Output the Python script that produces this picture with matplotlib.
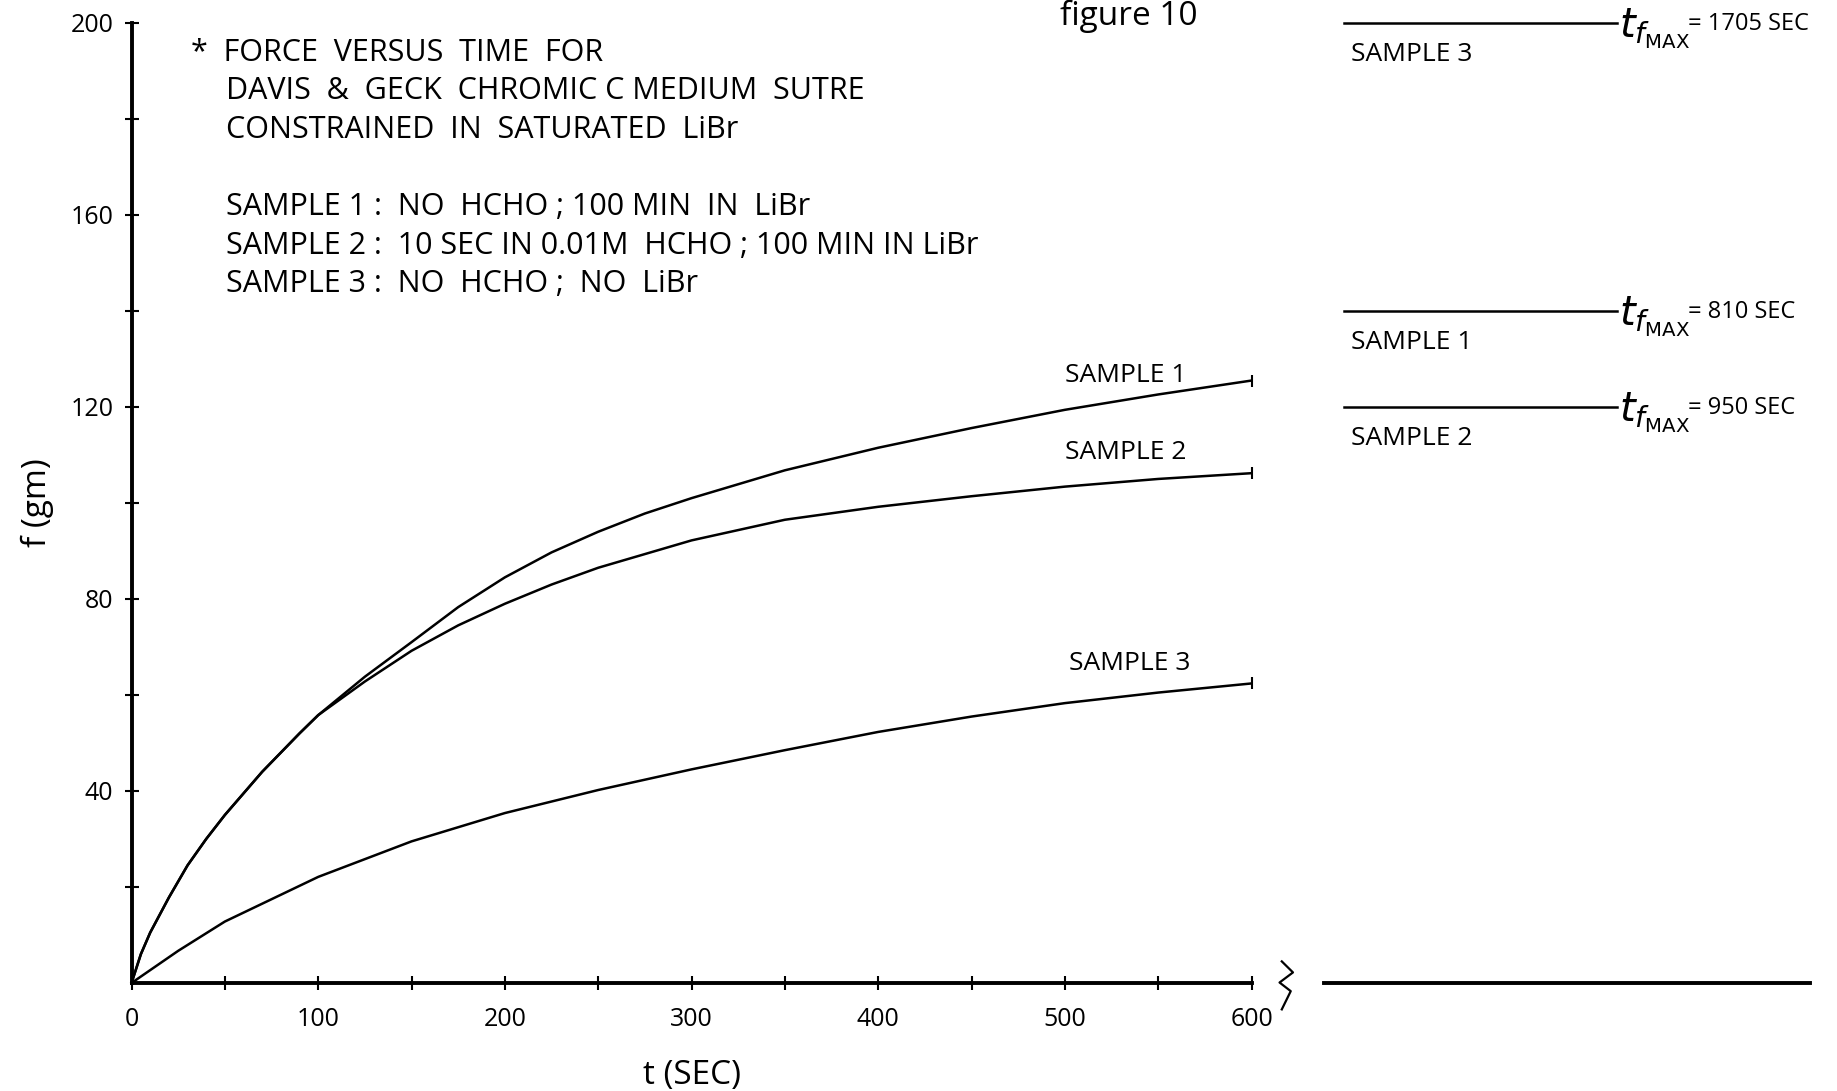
import matplotlib

matplotlib.use("Agg")
import matplotlib.pyplot as plt
from matplotlib import font_manager
from matplotlib.transforms import blended_transform_factory

# force f (gm) against time t (sec)
t1 = [0, 5, 10, 20, 30, 40, 50, 60, 70, 80, 90, 100, 125, 150, 175, 200, 225, 250, 275, 300,
      350, 400, 450, 500, 550, 600]
f1 = [0, 6, 10.5, 17.8, 24.5, 30, 35, 39.5, 44, 48, 52, 55.8, 63.8, 71, 78.3, 84.5, 89.7, 94,
      97.8, 101, 106.8, 111.5, 115.6, 119.4, 122.6, 125.5]

t2 = [0, 5, 10, 20, 30, 40, 50, 60, 70, 80, 90, 100, 125, 150, 175, 200, 225, 250, 300, 350,
      400, 450, 500, 550, 600]
f2 = [0, 6, 10.5, 17.8, 24.5, 30, 35, 39.5, 44, 48, 52, 55.8, 62.8, 69.2, 74.5, 79, 83, 86.5,
      92.2, 96.5, 99.2, 101.4, 103.4, 105, 106.2]

t3 = [0, 25, 50, 100, 150, 200, 250, 300, 350, 400, 450, 500, 550, 600]
f3 = [0, 6.7, 12.8, 22.1, 29.5, 35.4, 40.2, 44.5, 48.5, 52.3, 55.5, 58.3, 60.5, 62.4]

# maximum force and the time it was reached
fmax = {"SAMPLE 3": 200, "SAMPLE 1": 140, "SAMPLE 2": 120}
tfmax = {"SAMPLE 3": 1705, "SAMPLE 1": 810, "SAMPLE 2": 950}

notes = [
    "*  FORCE  VERSUS  TIME  FOR",
    "DAVIS  &  GECK  CHROMIC C MEDIUM  SUTRE",
    "CONSTRAINED  IN  SATURATED  LiBr",
    "",
    "SAMPLE 1 :  NO  HCHO ; 100 MIN  IN  LiBr",
    "SAMPLE 2 :  10 SEC IN 0.01M  HCHO ; 100 MIN IN LiBr",
    "SAMPLE 3 :  NO  HCHO ;  NO  LiBr",
]

installed = {f.name for f in font_manager.fontManager.ttflist}
hand = next((n for n in ["Liberation Sans Narrow", "Open Sans", "DejaVu Sans"] if n in installed))
plt.rcParams["font.family"] = [hand, "DejaVu Sans"]
plt.rcParams["mathtext.fontset"] = "dejavusans"

fig = plt.figure(figsize=(18.37, 10.91), dpi=100)
ax = fig.add_axes([0.0716, 0.099, 0.6097, 0.880])
axr = fig.add_axes([0.7207, 0.099, 0.2646, 0.880])

for t, f in [(t1, f1), (t2, f2), (t3, f3)]:
    ax.plot(t, f, color="black", lw=1.8, clip_on=False)
    ax.plot(t[-1], f[-1], marker="|", color="black", ms=8, mew=1.5, clip_on=False)

ax.set_xlim(0, 600)
ax.set_ylim(0, 200)
for side in ["top", "right"]:
    ax.spines[side].set_visible(False)
for side in ["left", "bottom"]:
    ax.spines[side].set_linewidth(2.8)

ax.set_xticks(range(0, 601, 100))
ax.set_xticks(range(50, 600, 100), minor=True)
ax.set_yticks(range(40, 201, 40))
ax.set_yticks(range(20, 200, 40), minor=True)
ax.tick_params(which="both", direction="inout", length=10, width=1.5, labelsize=18)
ax.tick_params(axis="x", pad=12)
ax.tick_params(axis="y", pad=8)

ax.set_xlabel("t (SEC)", fontsize=24, labelpad=20)
ax.set_ylabel("f (gm)", fontsize=24, labelpad=12)

lab = dict(fontsize=19, ha="left", va="center")
ax.text(500, 126.5, "SAMPLE 1", **lab)
ax.text(500, 110.5, "SAMPLE 2", **lab)
ax.text(502, 66.5, "SAMPLE 3", **lab)

for i, line in enumerate(notes):
    x = 0.053 if i == 0 else 0.0845
    ax.text(x, 0.969 - i * 0.0402, line, transform=ax.transAxes, fontsize=22,
            ha="left", va="center")

# axis break between 600 sec and the far-time panel
tr = blended_transform_factory(ax.transAxes, ax.transData)
ax.plot([1.027, 1.037, 1.025, 1.035, 1.027], [4.5, 2.2, 0.1, -1.7, -5.5],
        color="black", lw=1.6, transform=tr, clip_on=False)

# far-time panel: plateau force for each sample
axr.set_xlim(0, 1)
axr.set_ylim(0, 200)
axr.set_xticks([])
axr.set_yticks([])
for side in ["top", "right", "left"]:
    axr.spines[side].set_visible(False)
axr.spines["bottom"].set_linewidth(2.8)

for name, fm in fmax.items():
    axr.plot([0.041, 0.603], [fm, fm], color="black", lw=1.8, clip_on=False)
    axr.text(0.055, fm - 6.5, name, fontsize=19, ha="left", va="center")
    axr.text(0.607, fm - 3.0, r"$t_{f_{\mathrm{MAX}}}$", fontsize=29, ha="left", va="baseline")
    axr.text(0.748, fm - 0.3, f"= {tfmax[name]} SEC", fontsize=17, ha="left", va="center")

fig.text(0.577, 0.985, "figure 10", fontsize=24, ha="left", va="center")

fig.savefig("out.png", dpi=100)
